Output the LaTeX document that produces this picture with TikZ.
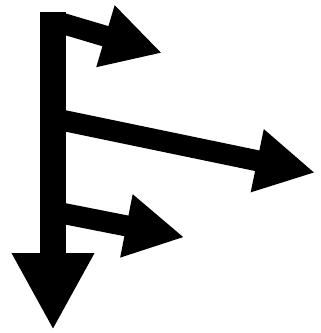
\documentclass[tikz,border=0pt]{standalone}
\usetikzlibrary{arrows.meta}

\begin{document}
\begin{tikzpicture}
[
	x=1pt,y=-1pt,
	trunk/.style={line width=26pt,-{Triangle[length=77pt,width=77pt]}},
	branch/.style={line width=21pt,-{Triangle[length=59pt,width=60pt]}}
]
	\useasboundingbox (0,0) rectangle (321,333);

	% trunk
	\coordinate (top) at (53,12);
	\coordinate (bottom) at (53,330);
	\draw[trunk] (top) -- (bottom);

	% branches
	\coordinate (upstart) at (60,22.7);
	\coordinate (uptip) at (162,53);
	\draw[branch] (upstart) -- (uptip);
	%
	\coordinate (midstart) at (60,119.8);
	\coordinate (midtip) at (315,172.7);
	\draw[branch] (midstart) -- (midtip);
	%
	\coordinate (lowstart) at (60,212.8);
	\coordinate (lowtip) at (184.3,237.3);
	\draw[branch] (lowstart) -- (lowtip);

\end{tikzpicture}
\end{document}
